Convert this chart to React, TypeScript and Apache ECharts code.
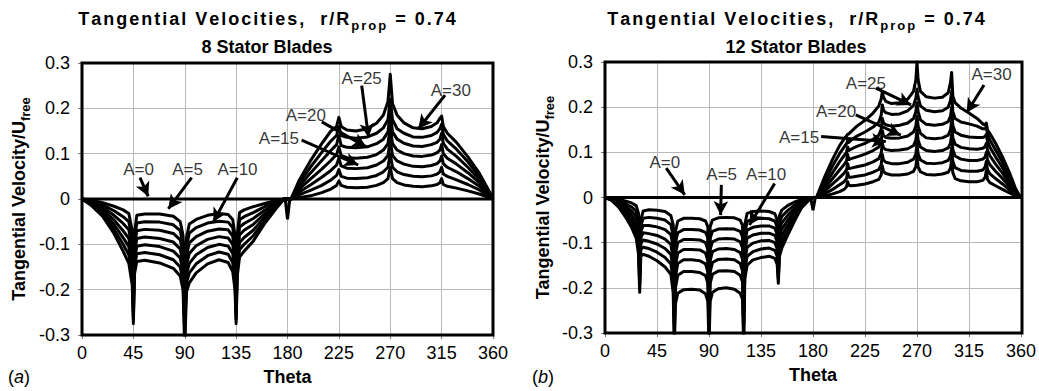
import React, { useEffect, useRef } from "react";
import * as echarts from "echarts";

// ---------- 8 stator blades ----------
const theta8 = [
  0, 8, 18, 28, 36, 41, 44, 45, 46, 48, 55, 68, 80, 86, 88.5, 90, 91.5, 94, 100, 110,
  120, 128, 132, 134, 135, 136, 138, 142, 150, 160, 170, 177, 180,
  183, 190, 200, 210, 218, 223, 225, 227, 232, 240, 250, 258, 264, 268, 270, 272, 276,
  282, 290, 298, 306, 311, 313.5, 315, 316.5, 320, 328, 338, 348, 355, 360,
];
const curve8_1 = [
  0, -0.002, -0.008, -0.016, -0.024, -0.032, -0.07, -0.17, -0.075, -0.036, -0.033, -0.033, -0.038, -0.05, -0.08, -0.2, -0.085, -0.055, -0.045, -0.036,
  -0.032, -0.034, -0.045, -0.08, -0.17, -0.08, -0.03, -0.024, -0.017, -0.01, -0.003, 0, 0,
  0, 0.003, 0.007, 0.014, 0.022, 0.03, 0.04, 0.03, 0.026, 0.025, 0.026, 0.03, 0.036, 0.045, 0.07, 0.045, 0.036,
  0.031, 0.028, 0.027, 0.029, 0.032, 0.036, 0.045, 0.032, 0.028, 0.024, 0.018, 0.011, 0.005, 0,
];
const curve8_2 = [
  0, -0.004, -0.013, -0.026, -0.039, -0.05, -0.09, -0.19, -0.09, -0.053, -0.05, -0.051, -0.057, -0.07, -0.1, -0.22, -0.105, -0.075, -0.063, -0.053,
  -0.049, -0.051, -0.063, -0.1, -0.19, -0.095, -0.046, -0.039, -0.03, -0.017, -0.006, 0, 0,
  0, 0.009, 0.019, 0.03, 0.042, 0.052, 0.065, 0.05, 0.046, 0.045, 0.047, 0.052, 0.06, 0.07, 0.1, 0.07, 0.06,
  0.054, 0.05, 0.049, 0.051, 0.055, 0.06, 0.07, 0.055, 0.05, 0.042, 0.032, 0.02, 0.009, 0,
];
const curve8_3 = [
  0, -0.006, -0.018, -0.036, -0.054, -0.068, -0.11, -0.21, -0.105, -0.07, -0.067, -0.069, -0.076, -0.09, -0.12, -0.24, -0.125, -0.097, -0.083, -0.071,
  -0.066, -0.068, -0.082, -0.12, -0.21, -0.11, -0.062, -0.054, -0.043, -0.025, -0.009, 0, 0,
  0, 0.015, 0.031, 0.048, 0.063, 0.075, 0.09, 0.073, 0.068, 0.067, 0.069, 0.075, 0.084, 0.096, 0.13, 0.096, 0.084,
  0.077, 0.072, 0.071, 0.074, 0.078, 0.084, 0.095, 0.078, 0.07, 0.06, 0.045, 0.028, 0.013, 0,
];
const curve8_4 = [
  0, -0.008, -0.023, -0.046, -0.07, -0.087, -0.13, -0.23, -0.12, -0.087, -0.084, -0.087, -0.095, -0.11, -0.14, -0.26, -0.145, -0.12, -0.103, -0.089,
  -0.083, -0.086, -0.1, -0.14, -0.23, -0.125, -0.079, -0.069, -0.056, -0.033, -0.012, 0, 0,
  0, 0.021, 0.044, 0.066, 0.085, 0.098, 0.115, 0.096, 0.091, 0.09, 0.092, 0.098, 0.108, 0.122, 0.16, 0.122, 0.108,
  0.1, 0.095, 0.094, 0.097, 0.102, 0.108, 0.12, 0.1, 0.09, 0.077, 0.058, 0.036, 0.016, 0,
];
const curve8_5 = [
  0, -0.01, -0.028, -0.056, -0.085, -0.105, -0.15, -0.25, -0.135, -0.104, -0.101, -0.105, -0.115, -0.13, -0.16, -0.28, -0.165, -0.142, -0.123, -0.107,
  -0.1, -0.104, -0.12, -0.16, -0.25, -0.14, -0.096, -0.085, -0.069, -0.04, -0.015, 0, 0,
  0, 0.027, 0.057, 0.085, 0.107, 0.12, 0.14, 0.118, 0.114, 0.113, 0.115, 0.122, 0.132, 0.148, 0.19, 0.148, 0.132,
  0.123, 0.117, 0.116, 0.12, 0.125, 0.132, 0.145, 0.123, 0.11, 0.094, 0.07, 0.043, 0.019, 0,
];
const curve8_6 = [
  0, -0.012, -0.033, -0.066, -0.1, -0.123, -0.17, -0.265, -0.15, -0.121, -0.118, -0.123, -0.134, -0.15, -0.18, -0.3, -0.185, -0.163, -0.143, -0.125,
  -0.117, -0.122, -0.14, -0.18, -0.265, -0.155, -0.112, -0.1, -0.081, -0.047, -0.018, 0, 0,
  0, 0.034, 0.07, 0.103, 0.128, 0.14, 0.16, 0.14, 0.136, 0.134, 0.137, 0.145, 0.157, 0.175, 0.22, 0.175, 0.155,
  0.145, 0.137, 0.136, 0.14, 0.147, 0.155, 0.165, 0.143, 0.128, 0.11, 0.082, 0.05, 0.022, 0,
];
const curve8_7 = [
  0, -0.014, -0.038, -0.076, -0.115, -0.142, -0.19, -0.275, -0.165, -0.138, -0.135, -0.141, -0.153, -0.17, -0.2, -0.33, -0.205, -0.185, -0.163, -0.143,
  -0.134, -0.14, -0.16, -0.2, -0.275, -0.17, -0.128, -0.115, -0.093, -0.054, -0.021, 0, 0,
  0, 0.04, 0.084, 0.122, 0.15, 0.16, 0.18, 0.16, 0.152, 0.15, 0.155, 0.167, 0.185, 0.215, 0.275, 0.21, 0.185,
  0.168, 0.157, 0.155, 0.16, 0.168, 0.178, 0.183, 0.16, 0.145, 0.125, 0.093, 0.057, 0.025, 0,
];
const baseTheta8 = [0, 178, 180, 182, 360];
const base8 = [0, 0, -0.045, 0, 0];

// ---------- 12 stator blades ----------
const theta12 = [
  0, 6, 12, 18, 23, 27, 29, 30, 31, 33, 38, 45, 52, 57, 59, 60, 61, 63, 68, 75,
  82, 87, 89, 90, 91, 93, 98, 105, 112, 117, 119, 120, 121, 123, 128, 135, 142, 147, 149, 150,
  151, 153, 158, 164, 170, 176, 180,
  183, 190, 197, 203, 207, 209, 210, 211, 213, 218, 225, 232, 237, 239, 240, 241, 243, 248, 255, 262,
  267, 269, 270, 271, 273, 278, 285, 292, 297, 299, 300, 301, 303, 308, 315, 322, 327, 329, 330, 331,
  333, 338, 344, 350, 355, 358, 360,
];
const curve12_1 = [
  0, -0.001, -0.004, -0.008, -0.012, -0.018, -0.035, -0.1, -0.05, -0.03, -0.027, -0.028, -0.031, -0.04, -0.06, -0.2, -0.075, -0.052, -0.046, -0.046,
  -0.047, -0.052, -0.065, -0.2, -0.065, -0.05, -0.045, -0.044, -0.045, -0.05, -0.062, -0.2, -0.06, -0.035, -0.031, -0.03, -0.031, -0.036, -0.05, -0.1,
  -0.04, -0.028, -0.018, -0.01, -0.005, -0.001, 0,
  0, 0.003, 0.008, 0.013, 0.018, 0.024, 0.035, 0.027, 0.026, 0.027, 0.03, 0.035, 0.04, 0.05, 0.07, 0.058, 0.053, 0.05, 0.05, 0.052,
  0.058, 0.068, 0.09, 0.068, 0.057, 0.051, 0.05, 0.052, 0.056, 0.065, 0.085, 0.055, 0.042, 0.037, 0.035, 0.035, 0.038, 0.045, 0.06, 0.04,
  0.033, 0.026, 0.018, 0.01, 0.004, 0.001, 0,
];
const curve12_2 = [
  0, -0.002, -0.007, -0.014, -0.021, -0.03, -0.05, -0.12, -0.063, -0.046, -0.044, -0.046, -0.05, -0.06, -0.085, -0.22, -0.1, -0.078, -0.071, -0.071,
  -0.072, -0.077, -0.09, -0.22, -0.09, -0.075, -0.07, -0.069, -0.07, -0.075, -0.087, -0.22, -0.08, -0.053, -0.048, -0.046, -0.047, -0.052, -0.066, -0.12,
  -0.055, -0.042, -0.029, -0.017, -0.008, -0.002, 0,
  0, 0.008, 0.018, 0.028, 0.035, 0.042, 0.055, 0.045, 0.045, 0.047, 0.05, 0.056, 0.062, 0.073, 0.095, 0.083, 0.078, 0.075, 0.075, 0.078,
  0.085, 0.096, 0.12, 0.096, 0.083, 0.076, 0.075, 0.077, 0.082, 0.092, 0.11, 0.08, 0.066, 0.06, 0.058, 0.058, 0.061, 0.068, 0.08, 0.062,
  0.053, 0.042, 0.03, 0.017, 0.007, 0.002, 0,
];
const curve12_3 = [
  0, -0.003, -0.01, -0.02, -0.03, -0.042, -0.065, -0.14, -0.076, -0.062, -0.062, -0.065, -0.071, -0.082, -0.11, -0.24, -0.125, -0.1, -0.093, -0.093,
  -0.094, -0.1, -0.115, -0.24, -0.115, -0.098, -0.092, -0.091, -0.092, -0.098, -0.112, -0.24, -0.1, -0.072, -0.066, -0.063, -0.063, -0.068, -0.082, -0.14,
  -0.07, -0.056, -0.04, -0.024, -0.011, -0.003, 0,
  0, 0.014, 0.03, 0.044, 0.054, 0.061, 0.075, 0.064, 0.065, 0.068, 0.072, 0.079, 0.086, 0.098, 0.12, 0.11, 0.106, 0.104, 0.105, 0.108,
  0.115, 0.127, 0.15, 0.127, 0.112, 0.104, 0.102, 0.104, 0.11, 0.12, 0.14, 0.106, 0.092, 0.085, 0.082, 0.082, 0.085, 0.09, 0.1, 0.083,
  0.073, 0.058, 0.042, 0.024, 0.01, 0.003, 0,
];
const curve12_4 = [
  0, -0.004, -0.013, -0.026, -0.039, -0.054, -0.08, -0.16, -0.089, -0.078, -0.08, -0.084, -0.092, -0.104, -0.135, -0.26, -0.15, -0.123, -0.115, -0.115,
  -0.116, -0.123, -0.14, -0.26, -0.14, -0.12, -0.114, -0.113, -0.115, -0.122, -0.137, -0.26, -0.12, -0.09, -0.083, -0.079, -0.079, -0.084, -0.098, -0.155,
  -0.085, -0.07, -0.051, -0.031, -0.014, -0.004, 0,
  0, 0.02, 0.042, 0.061, 0.073, 0.081, 0.095, 0.084, 0.086, 0.09, 0.096, 0.104, 0.112, 0.124, 0.148, 0.137, 0.133, 0.131, 0.132, 0.136,
  0.145, 0.158, 0.18, 0.158, 0.142, 0.132, 0.13, 0.132, 0.138, 0.15, 0.17, 0.133, 0.118, 0.111, 0.108, 0.107, 0.109, 0.113, 0.12, 0.105,
  0.093, 0.074, 0.054, 0.031, 0.013, 0.004, 0,
];
const curve12_5 = [
  0, -0.005, -0.016, -0.032, -0.048, -0.066, -0.095, -0.18, -0.102, -0.094, -0.097, -0.103, -0.113, -0.126, -0.16, -0.28, -0.175, -0.146, -0.138, -0.138,
  -0.14, -0.147, -0.165, -0.28, -0.165, -0.144, -0.137, -0.136, -0.138, -0.146, -0.162, -0.28, -0.14, -0.11, -0.101, -0.096, -0.095, -0.1, -0.114, -0.17,
  -0.1, -0.084, -0.062, -0.038, -0.017, -0.005, 0,
  0, 0.027, 0.055, 0.079, 0.093, 0.1, 0.112, 0.104, 0.107, 0.113, 0.12, 0.129, 0.138, 0.151, 0.175, 0.165, 0.161, 0.158, 0.16, 0.165,
  0.175, 0.19, 0.21, 0.19, 0.172, 0.162, 0.16, 0.162, 0.168, 0.18, 0.2, 0.16, 0.145, 0.138, 0.134, 0.133, 0.133, 0.135, 0.14, 0.125,
  0.112, 0.09, 0.066, 0.038, 0.016, 0.005, 0,
];
const curve12_6 = [
  0, -0.006, -0.019, -0.038, -0.057, -0.078, -0.11, -0.195, -0.115, -0.11, -0.113, -0.121, -0.133, -0.147, -0.185, -0.3, -0.2, -0.172, -0.164, -0.164,
  -0.166, -0.173, -0.19, -0.3, -0.19, -0.17, -0.163, -0.162, -0.164, -0.172, -0.187, -0.3, -0.16, -0.13, -0.12, -0.114, -0.112, -0.117, -0.13, -0.18,
  -0.115, -0.098, -0.073, -0.045, -0.02, -0.006, 0,
  0, 0.035, 0.07, 0.097, 0.112, 0.119, 0.126, 0.122, 0.127, 0.136, 0.145, 0.156, 0.167, 0.182, 0.205, 0.193, 0.188, 0.184, 0.185, 0.192,
  0.204, 0.22, 0.24, 0.222, 0.203, 0.193, 0.19, 0.192, 0.2, 0.215, 0.235, 0.19, 0.175, 0.167, 0.163, 0.158, 0.152, 0.152, 0.155, 0.14,
  0.128, 0.105, 0.078, 0.045, 0.019, 0.006, 0,
];
const curve12_7 = [
  0, -0.007, -0.022, -0.044, -0.066, -0.09, -0.125, -0.21, -0.13, -0.126, -0.13, -0.14, -0.154, -0.17, -0.21, -0.33, -0.235, -0.212, -0.204, -0.203,
  -0.205, -0.213, -0.23, -0.33, -0.23, -0.21, -0.202, -0.2, -0.203, -0.212, -0.225, -0.33, -0.18, -0.15, -0.138, -0.133, -0.13, -0.135, -0.148, -0.19,
  -0.13, -0.112, -0.084, -0.052, -0.023, -0.007, 0,
  0, 0.045, 0.085, 0.115, 0.13, 0.136, 0.14, 0.141, 0.146, 0.158, 0.171, 0.187, 0.203, 0.218, 0.234, 0.222, 0.213, 0.208, 0.21, 0.218,
  0.235, 0.26, 0.3, 0.26, 0.235, 0.223, 0.22, 0.222, 0.232, 0.255, 0.277, 0.225, 0.21, 0.198, 0.187, 0.175, 0.163, 0.16, 0.165, 0.15,
  0.142, 0.12, 0.09, 0.055, 0.022, 0.007, 0,
];
const baseTheta12 = [0, 178, 180, 182, 360];
const base12 = [0, 0, -0.028, 0, 0];

// ---------- annotations (data coordinates) ----------
const annotationText = ["A=0", "A=5", "A=10", "A=15", "A=20", "A=25", "A=30"];
const labelPos8 = [[49.5, 0.065], [92.4, 0.065], [136.2, 0.065], [172.5, 0.134], [196, 0.185], [245, 0.266], [323, 0.24]];
const arrowTail8 = [[50.8, 0.047], [96, 0.047], [136, 0.047], [192.4, 0.13], [210, 0.17], [245, 0.25], [318, 0.229]];
const arrowHead8 = [[58, 0.006], [75.6, -0.022], [115, -0.051], [242, 0.075], [249, 0.115], [251, 0.136], [294.6, 0.155]];
const labelPos12 = [[51.8, 0.077], [101, 0.051], [139.5, 0.051], [168, 0.133], [200, 0.19], [225.8, 0.252], [334.5, 0.272]];
const arrowTail12 = [[53, 0.065], [100.7, 0.028], [146.8, 0.031], [187, 0.135], [217, 0.183], [234.5, 0.242], [328, 0.249]];
const arrowHead12 = [[69, 0.006], [100, -0.039], [125, -0.061], [243, 0.124], [256, 0.138], [264.8, 0.205], [313, 0.188]];

const FONT = "'Liberation Sans', Arial, Helvetica, sans-serif";

// Title text set with a little extra tracking: every character becomes its own rich token.
function tracked(text: string, style: string) {
  return Array.from(text)
    .map((ch) => `{${style}|${ch}}`)
    .join("");
}
const TITLE_MAIN = "Tangential Velocities,  r/R";
const TITLE_SUB = "prop";
const TITLE_TAIL = " = 0.74";

const panels = [
  {
    rect: { left: 82, top: 63, width: 411, height: 272 },
    theta: theta8,
    curves: [curve8_1, curve8_2, curve8_3, curve8_4, curve8_5, curve8_6, curve8_7],
    baseTheta: baseTheta8,
    base: base8,
    labels: labelPos8,
    tails: arrowTail8,
    heads: arrowHead8,
    subtitle: "8 Stator Blades",
    titleX: 267,
    tag: "a",
    tagX: 8,
    nameGap: 50,
  },
  {
    rect: { left: 605, top: 62, width: 417, height: 271 },
    theta: theta12,
    curves: [curve12_1, curve12_2, curve12_3, curve12_4, curve12_5, curve12_6, curve12_7],
    baseTheta: baseTheta12,
    base: base12,
    labels: labelPos12,
    tails: arrowTail12,
    heads: arrowHead12,
    subtitle: "12 Stator Blades",
    titleX: 796,
    tag: "b",
    tagX: 532,
    nameGap: 49,
  },
];

function buildOption() {
  const grid: any[] = [];
  const xAxis: any[] = [];
  const yAxis: any[] = [];
  const series: any[] = [];
  const graphic: any[] = [];

  panels.forEach((p, gi) => {
    grid.push({ ...p.rect, containLabel: false });
    xAxis.push({
      gridIndex: gi,
      type: "value",
      min: 0,
      max: 360,
      interval: 45,
      axisLine: { show: false, onZero: false },
      axisTick: { show: true, length: 4, lineStyle: { color: "#777" } },
      axisLabel: { fontSize: 18, color: "#000", fontFamily: FONT, margin: 9 },
      splitLine: { show: true, lineStyle: { color: "#b8b8b8", width: 1 } },
      name: "Theta",
      nameLocation: "middle",
      nameGap: 33,
      nameTextStyle: { fontSize: 18, fontWeight: "bold", color: "#000", fontFamily: FONT },
    });
    yAxis.push({
      gridIndex: gi,
      type: "value",
      min: -0.3,
      max: 0.3,
      interval: 0.1,
      axisLine: { show: false, onZero: false },
      axisTick: { show: true, length: 4, lineStyle: { color: "#777" } },
      axisLabel: {
        fontSize: 18,
        color: "#000",
        fontFamily: FONT,
        margin: 12,
        formatter: (v: number) => String(Math.round(v * 10) / 10),
      },
      splitLine: { show: true, lineStyle: { color: "#b8b8b8", width: 1 } },
      name: "{m|Tangential Velocity/U}{s|free}",
      nameLocation: "middle",
      nameRotate: 90,
      nameGap: p.nameGap,
      nameTextStyle: {
        rich: {
          m: { fontSize: 18, fontWeight: "bold", color: "#000", fontFamily: FONT, lineHeight: 22, verticalAlign: "top" },
          s: { fontSize: 13, fontWeight: "bold", color: "#000", fontFamily: FONT, lineHeight: 13, verticalAlign: "bottom" },
        },
      },
    });

    // zero-swirl baseline
    series.push({
      type: "line",
      xAxisIndex: gi,
      yAxisIndex: gi,
      data: p.baseTheta.map((t, i) => [t, p.base[i]]),
      symbol: "none",
      lineStyle: { color: "#000", width: 3 },
      silent: true,
      z: 3,
    });
    // velocity profiles
    p.curves.forEach((c) => {
      series.push({
        type: "line",
        xAxisIndex: gi,
        yAxisIndex: gi,
        data: p.theta.map((t, i) => [t, c[i]]),
        symbol: "none",
        clip: true,
        lineStyle: { color: "#000", width: 3, join: "round" },
        silent: true,
        z: 3,
      });
    });
    // callout labels with arrows
    series.push({
      type: "scatter",
      xAxisIndex: gi,
      yAxisIndex: gi,
      data: p.labels.map((q, i) => [q[0], q[1], annotationText[i]]),
      symbolSize: 0,
      silent: true,
      z: 6,
      label: {
        show: true,
        position: "inside",
        formatter: (d: any) => d.value[2],
        fontSize: 17,
        color: "#000",
        fontFamily: FONT,
      },
      markLine: {
        silent: true,
        symbol: ["none", "arrow"],
        symbolSize: [11, 14],
        lineStyle: { color: "#000", width: 3, type: "solid" },
        label: { show: false },
        emphasis: { disabled: true },
        data: p.tails.map((t, i) => [{ coord: t }, { coord: p.heads[i] }]),
      },
    });

    // plot frame
    graphic.push({
      type: "rect",
      silent: true,
      z: 100,
      shape: { x: p.rect.left, y: p.rect.top, width: p.rect.width, height: p.rect.height },
      style: { fill: "none", stroke: "#000", lineWidth: 3 },
    });
    // titles
    const mainStyle = { fontSize: 18, fontWeight: "bold", fill: "#000", fontFamily: FONT, lineHeight: 22, verticalAlign: "top", padding: [0, 1, 0, 1] };
    const subStyle = { fontSize: 13, fontWeight: "bold", fill: "#000", fontFamily: FONT, lineHeight: 13, verticalAlign: "bottom", padding: [0, 1, 0, 1] };
    graphic.push({
      type: "text",
      silent: true,
      z: 100,
      x: p.titleX,
      y: 21,
      style: {
        text: tracked(TITLE_MAIN, "m") + tracked(TITLE_SUB, "s") + tracked(TITLE_TAIL, "m"),
        align: "center",
        verticalAlign: "middle",
        textAlign: "center",
        textVerticalAlign: "middle",
        rich: { m: mainStyle, s: subStyle },
      },
    });
    graphic.push({
      type: "text",
      silent: true,
      z: 100,
      x: p.titleX,
      y: 47,
      style: {
        text: p.subtitle,
        align: "center",
        verticalAlign: "middle",
        textAlign: "center",
        textVerticalAlign: "middle",
        fontSize: 18,
        fontWeight: "bold",
        fontFamily: FONT,
        fill: "#000",
      },
    });
    graphic.push({
      type: "text",
      silent: true,
      z: 100,
      x: p.tagX,
      y: 377,
      style: {
        text: `{n|(}{i|${p.tag}}{n|)}`,
        align: "left",
        verticalAlign: "middle",
        textAlign: "left",
        textVerticalAlign: "middle",
        rich: {
          n: { fontSize: 18, fill: "#000", fontFamily: FONT },
          i: { fontSize: 18, fill: "#000", fontFamily: FONT, fontStyle: "italic" },
        },
      },
    });
  });

  return {
    animation: false,
    backgroundColor: "#fff",
    grid,
    xAxis,
    yAxis,
    series,
    graphic,
  };
}

export default function App() {
  const ref = useRef<HTMLDivElement | null>(null);
  useEffect(() => {
    if (!ref.current) return;
    const chart = echarts.init(ref.current, undefined, { renderer: "svg" });
    chart.setOption(buildOption());
    return () => chart.dispose();
  }, []);
  return (
    <div
      ref={ref}
      style={{ position: "fixed", left: 0, top: 0, width: 1039, height: 391, background: "#fff" }}
    />
  );
}
